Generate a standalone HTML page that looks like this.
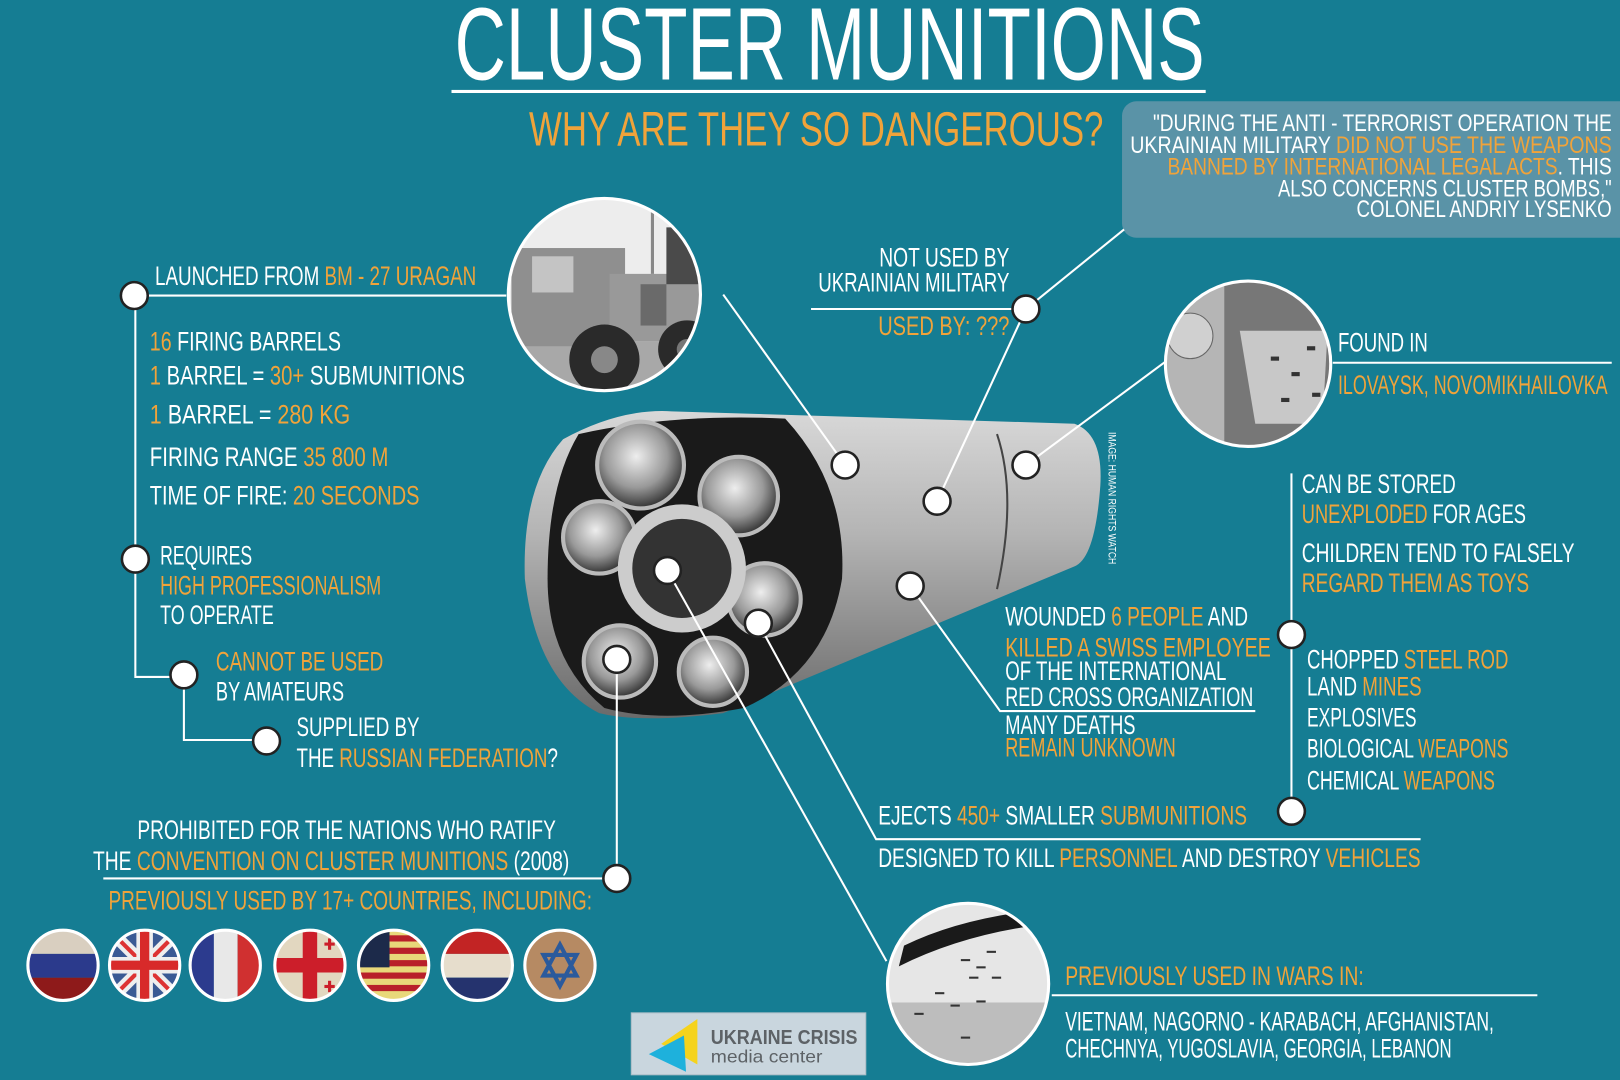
<!DOCTYPE html>
<html><head><meta charset="utf-8"><style>
html,body{margin:0;padding:0;background:#157d93;}
svg{display:block}
text{font-family:"Liberation Sans Narrow","Liberation Sans",sans-serif;fill:#fff;}
.o{fill:#f0a33a}
.t{font-size:26px}
</style></head><body>
<svg width="1620" height="1080" viewBox="0 0 1568 1045" preserveAspectRatio="none" xmlns="http://www.w3.org/2000/svg">
<defs>
<linearGradient id="rk" x1="0" y1="0" x2="0" y2="1">
<stop offset="0" stop-color="#d8d8d8"/><stop offset="0.4" stop-color="#b4b4b4"/><stop offset="1" stop-color="#6a6a6a"/></linearGradient>
<radialGradient id="tube" cx="0.45" cy="0.4" r="0.6"><stop offset="0" stop-color="#eee"/><stop offset="0.6" stop-color="#999"/><stop offset="1" stop-color="#333"/></radialGradient>
<clipPath id="c1"><circle cx="585" cy="285" r="93"/></clipPath>
<clipPath id="c2"><circle cx="1208" cy="352" r="80"/></clipPath>
<clipPath id="c3"><circle cx="937" cy="952" r="78"/></clipPath>
</defs>
<rect width="1568" height="1045" fill="#157d93"/>

<text x="440" y="77" font-size="100" textLength="726" lengthAdjust="spacingAndGlyphs">CLUSTER MUNITIONS</text>
<rect x="437" y="87" width="730" height="3" fill="#fff"/>
<text x="512" y="141" font-size="47" class="o" textLength="556" lengthAdjust="spacingAndGlyphs">WHY ARE THEY SO DANGEROUS?</text>

<rect x="1086" y="98" width="500" height="132" rx="14" fill="#5a93a7"/>
<g font-size="23" text-anchor="end">
<text x="1560" y="127" textLength="444" lengthAdjust="spacingAndGlyphs">"DURING THE ANTI - TERRORIST OPERATION THE</text>
<text x="1560" y="148" textLength="466" lengthAdjust="spacingAndGlyphs">UKRAINIAN MILITARY <tspan class="o">DID NOT USE THE WEAPONS</tspan></text>
<text x="1560" y="169" textLength="430" lengthAdjust="spacingAndGlyphs"><tspan class="o">BANNED BY INTERNATIONAL LEGAL ACTS</tspan>. THIS</text>
<text x="1560" y="190" textLength="323" lengthAdjust="spacingAndGlyphs">ALSO CONCERNS CLUSTER BOMBS,"</text>
<text x="1560" y="210" textLength="247" lengthAdjust="spacingAndGlyphs">COLONEL ANDRIY LYSENKO</text>
</g>

<path d="M545,425 Q600,395 650,398 L1040,410 Q1068,420 1065,470 Q1060,540 1040,548 L700,690 Q620,700 580,690 Q520,660 508,560 Q505,470 545,425 Z" fill="url(#rk)"/>
<path d="M965,420 Q985,480 965,570" stroke="#444" stroke-width="2" fill="none"/>
<path d="M560,420 Q650,400 760,405 Q820,470 815,560 Q800,650 720,685 Q640,700 585,685 Q530,640 530,560 Q530,470 560,420 Z" fill="#1a1a1a"/>
<g stroke="#bbb" stroke-width="4">
<circle cx="620" cy="450" r="42" fill="url(#tube)"/>
<circle cx="715" cy="480" r="38" fill="url(#tube)"/>
<circle cx="580" cy="520" r="35" fill="url(#tube)"/>
<circle cx="740" cy="580" r="35" fill="url(#tube)"/>
<circle cx="600" cy="640" r="35" fill="url(#tube)"/>
<circle cx="690" cy="650" r="33" fill="url(#tube)"/>
<circle cx="660" cy="550" r="55" fill="#333" stroke="#ccc" stroke-width="14"/>
</g>
<text transform="translate(1073,418) rotate(90)" font-size="11" textLength="128" lengthAdjust="spacingAndGlyphs">IMAGE: HUMAN RIGHTS WATCH</text>

<g clip-path="url(#c1)">
<rect x="490" y="190" width="190" height="190" fill="#ededed"/>
<rect x="490" y="330" width="190" height="50" fill="#a8a8a8"/>
<rect x="495" y="240" width="110" height="95" fill="#8f8f8f"/>
<rect x="515" y="248" width="40" height="35" fill="#c4c4c4"/>
<rect x="590" y="265" width="90" height="65" fill="#999"/>
<rect x="620" y="275" width="25" height="40" fill="#6a6a6a"/>
<rect x="645" y="220" width="35" height="55" fill="#4a4a4a"/>
<rect x="630" y="205" width="3" height="60" fill="#888"/>
<circle cx="585" cy="348" r="34" fill="#2a2a2a"/><circle cx="585" cy="348" r="13" fill="#888"/>
<circle cx="665" cy="338" r="28" fill="#2a2a2a"/><circle cx="665" cy="338" r="10" fill="#777"/>
</g>
<circle cx="585" cy="285" r="93" fill="none" stroke="#fff" stroke-width="3"/>
<g clip-path="url(#c2)">
<rect x="1125" y="270" width="170" height="170" fill="#8f8f8f"/>
<path d="M1175,270 L1295,270 L1295,440 L1190,440 Q1160,380 1175,270Z" fill="#777"/>
<path d="M1200,320 L1285,320 L1280,410 L1215,410Z" fill="#c8c8c8"/>
<rect x="1125" y="270" width="60" height="170" fill="#b5b5b5"/>
<circle cx="1152" cy="325" r="22" fill="#d0d0d0" stroke="#666"/>
<g fill="#333"><rect x="1230" y="345" width="8" height="4"/><rect x="1250" y="360" width="8" height="4"/><rect x="1265" y="335" width="8" height="4"/><rect x="1240" y="385" width="8" height="4"/><rect x="1270" y="380" width="8" height="4"/></g>
</g>
<circle cx="1208" cy="352" r="80" fill="none" stroke="#fff" stroke-width="3"/>
<g clip-path="url(#c3)">
<rect x="855" y="870" width="170" height="170" fill="#e6e6e6"/>
<rect x="855" y="970" width="170" height="70" fill="#bdbdbd"/>
<path d="M870,935 Q930,905 1005,895 L1010,880 Q930,888 875,915Z" fill="#1a1a1a"/>
<g fill="#333"><rect x="930" y="928" width="9" height="2"/><rect x="945" y="935" width="9" height="2"/><rect x="938" y="945" width="9" height="2"/><rect x="955" y="920" width="9" height="2"/><rect x="905" y="960" width="9" height="2"/><rect x="920" y="972" width="9" height="2"/><rect x="945" y="968" width="9" height="2"/><rect x="885" y="980" width="9" height="2"/><rect x="930" y="1003" width="9" height="2"/><rect x="960" y="945" width="9" height="2"/></g>
</g>
<circle cx="937" cy="952" r="78" fill="none" stroke="#fff" stroke-width="3"/>

<g stroke="#fff" stroke-width="2" fill="none">
<path d="M130,286 H490"/>
<path d="M131,286 V655 H178 V716 H258"/>
<path d="M700,285 L818,450"/>
<path d="M1088,222 L993,299"/>
<path d="M785,299 H993 L907,485"/>
<path d="M1128,350 L993,450"/>
<path d="M1290,351 H1560"/>
<path d="M1250,458 V785"/>
<path d="M881,567 L968,688 H1215"/>
<path d="M734,603 L848,812 H1375"/>
<path d="M646,552 L858,930"/>
<path d="M597,638 V850 H100"/>
<path d="M1018,963 H1488"/>
</g>
<g fill="#fff" stroke="#222" stroke-width="2.5">
<circle cx="130" cy="286" r="13"/><circle cx="131" cy="541" r="13"/><circle cx="178" cy="653" r="13"/><circle cx="258" cy="717" r="13"/>
<circle cx="597" cy="850" r="13"/><circle cx="993" cy="299" r="13"/><circle cx="818" cy="450" r="13"/><circle cx="907" cy="485" r="13"/>
<circle cx="993" cy="450" r="13"/><circle cx="881" cy="567" r="13"/><circle cx="646" cy="552" r="13"/><circle cx="734" cy="603" r="13"/>
<circle cx="597" cy="638" r="13"/><circle cx="1250" cy="614" r="13"/><circle cx="1250" cy="785" r="13"/>
</g>

<g class="t">
<text x="150" y="276" textLength="311" lengthAdjust="spacingAndGlyphs">LAUNCHED FROM <tspan class="o">BM - 27 URAGAN</tspan></text>
<text x="145" y="339" textLength="185" lengthAdjust="spacingAndGlyphs"><tspan class="o">16</tspan> FIRING BARRELS</text>
<text x="145" y="372" textLength="305" lengthAdjust="spacingAndGlyphs"><tspan class="o">1</tspan> BARREL = <tspan class="o">30+</tspan> SUBMUNITIONS</text>
<text x="145" y="410" textLength="194" lengthAdjust="spacingAndGlyphs"><tspan class="o">1</tspan> BARREL = <tspan class="o">280 KG</tspan></text>
<text x="145" y="451" textLength="231" lengthAdjust="spacingAndGlyphs">FIRING RANGE <tspan class="o">35 800 M</tspan></text>
<text x="145" y="488" textLength="261" lengthAdjust="spacingAndGlyphs">TIME OF FIRE: <tspan class="o">20 SECONDS</tspan></text>
<text x="155" y="546" textLength="89" lengthAdjust="spacingAndGlyphs">REQUIRES</text>
<text x="155" y="575" class="o" textLength="214" lengthAdjust="spacingAndGlyphs">HIGH PROFESSIONALISM</text>
<text x="155" y="604" textLength="110" lengthAdjust="spacingAndGlyphs">TO OPERATE</text>
<text x="209" y="649" class="o" textLength="162" lengthAdjust="spacingAndGlyphs">CANNOT BE USED</text>
<text x="209" y="678" textLength="124" lengthAdjust="spacingAndGlyphs">BY AMATEURS</text>
<text x="287" y="712" textLength="119" lengthAdjust="spacingAndGlyphs">SUPPLIED BY</text>
<text x="287" y="742" textLength="253" lengthAdjust="spacingAndGlyphs">THE <tspan class="o">RUSSIAN FEDERATION</tspan>?</text>
<text x="133" y="812" textLength="405" lengthAdjust="spacingAndGlyphs">PROHIBITED FOR THE NATIONS WHO RATIFY</text>
<text x="90" y="842" textLength="461" lengthAdjust="spacingAndGlyphs">THE <tspan class="o">CONVENTION ON CLUSTER MUNITIONS</tspan> (2008)</text>
<text x="105" y="880" class="o" textLength="468" lengthAdjust="spacingAndGlyphs">PREVIOUSLY USED BY 17+ COUNTRIES, INCLUDING:</text>

<text x="977" y="258" text-anchor="end" textLength="126" lengthAdjust="spacingAndGlyphs">NOT USED BY</text>
<text x="977" y="282" text-anchor="end" textLength="185" lengthAdjust="spacingAndGlyphs">UKRAINIAN MILITARY</text>
<text x="977" y="324" text-anchor="end" class="o" textLength="127" lengthAdjust="spacingAndGlyphs">USED BY: ???</text>

<text x="1295" y="340" textLength="87" lengthAdjust="spacingAndGlyphs">FOUND IN</text>
<text x="1295" y="381" class="o" textLength="261" lengthAdjust="spacingAndGlyphs">ILOVAYSK, NOVOMIKHAILOVKA</text>

<text x="1260" y="477" textLength="149" lengthAdjust="spacingAndGlyphs">CAN BE STORED</text>
<text x="1260" y="506" textLength="217" lengthAdjust="spacingAndGlyphs"><tspan class="o">UNEXPLODED</tspan> FOR AGES</text>
<text x="1260" y="544" textLength="264" lengthAdjust="spacingAndGlyphs">CHILDREN TEND TO FALSELY</text>
<text x="1260" y="573" class="o" textLength="220" lengthAdjust="spacingAndGlyphs">REGARD THEM AS TOYS</text>
<text x="1265" y="647" textLength="195" lengthAdjust="spacingAndGlyphs">CHOPPED <tspan class="o">STEEL ROD</tspan></text>
<text x="1265" y="673" textLength="111" lengthAdjust="spacingAndGlyphs">LAND <tspan class="o">MINES</tspan></text>
<text x="1265" y="703" textLength="106" lengthAdjust="spacingAndGlyphs">EXPLOSIVES</text>
<text x="1265" y="733" textLength="195" lengthAdjust="spacingAndGlyphs">BIOLOGICAL <tspan class="o">WEAPONS</tspan></text>
<text x="1265" y="764" textLength="182" lengthAdjust="spacingAndGlyphs">CHEMICAL <tspan class="o">WEAPONS</tspan></text>

<text x="973" y="605" textLength="235" lengthAdjust="spacingAndGlyphs">WOUNDED <tspan class="o">6 PEOPLE</tspan> AND</text>
<text x="973" y="635" class="o" textLength="257" lengthAdjust="spacingAndGlyphs">KILLED A SWISS EMPLOYEE</text>
<text x="973" y="658" textLength="214" lengthAdjust="spacingAndGlyphs">OF THE INTERNATIONAL</text>
<text x="973" y="683" textLength="240" lengthAdjust="spacingAndGlyphs">RED CROSS ORGANIZATION</text>
<text x="973" y="710" textLength="126" lengthAdjust="spacingAndGlyphs">MANY DEATHS</text>
<text x="973" y="732" class="o" textLength="165" lengthAdjust="spacingAndGlyphs">REMAIN UNKNOWN</text>

<text x="850" y="798" textLength="357" lengthAdjust="spacingAndGlyphs">EJECTS <tspan class="o">450+</tspan> SMALLER <tspan class="o">SUBMUNITIONS</tspan></text>
<text x="850" y="839" textLength="525" lengthAdjust="spacingAndGlyphs">DESIGNED TO KILL <tspan class="o">PERSONNEL</tspan> AND DESTROY <tspan class="o">VEHICLES</tspan></text>

<text x="1031" y="953" class="o" textLength="289" lengthAdjust="spacingAndGlyphs">PREVIOUSLY USED IN WARS IN:</text>
<text x="1031" y="997" textLength="415" lengthAdjust="spacingAndGlyphs">VIETNAM, NAGORNO - KARABACH, AFGHANISTAN,</text>
<text x="1031" y="1023" textLength="374" lengthAdjust="spacingAndGlyphs">CHECHNYA, YUGOSLAVIA, GEORGIA, LEBANON</text>
</g>

<defs>
<clipPath id="f1"><circle cx="61" cy="934" r="34"/></clipPath>
<clipPath id="f2"><circle cx="140" cy="934" r="34"/></clipPath>
<clipPath id="f3"><circle cx="218" cy="934" r="34"/></clipPath>
<clipPath id="f4"><circle cx="300" cy="934" r="34"/></clipPath>
<clipPath id="f5"><circle cx="381" cy="934" r="34"/></clipPath>
<clipPath id="f6"><circle cx="462" cy="934" r="34"/></clipPath>
<clipPath id="f7"><circle cx="542" cy="934" r="34"/></clipPath>
</defs>
<g clip-path="url(#f1)"><rect x="27" y="900" width="68" height="23" fill="#d9cfc0"/><rect x="27" y="923" width="68" height="23" fill="#2b3a8c"/><rect x="27" y="946" width="68" height="23" fill="#8e1a1a"/></g>
<g clip-path="url(#f2)"><rect x="106" y="900" width="68" height="68" fill="#3a5a94"/><path d="M106,900 L174,968 M174,900 L106,968" stroke="#eee" stroke-width="12"/><path d="M106,900 L174,968 M174,900 L106,968" stroke="#d33" stroke-width="4"/><path d="M140,900 V968 M106,934 H174" stroke="#eee" stroke-width="16"/><path d="M140,900 V968 M106,934 H174" stroke="#d82a2a" stroke-width="9"/></g>
<g clip-path="url(#f3)"><rect x="184" y="900" width="23" height="68" fill="#2c3b8e"/><rect x="207" y="900" width="23" height="68" fill="#e8e8e8"/><rect x="230" y="900" width="23" height="68" fill="#d03030"/></g>
<g clip-path="url(#f4)"><rect x="266" y="900" width="68" height="68" fill="#e2d7c0"/><path d="M300,900 V968 M266,934 H334" stroke="#cc1e2a" stroke-width="14"/><rect x="314" y="912" width="10" height="3" fill="#cc1e2a"/><rect x="317.5" y="908" width="3" height="11" fill="#cc1e2a"/><rect x="314" y="953" width="10" height="3" fill="#cc1e2a"/><rect x="317.5" y="949" width="3" height="11" fill="#cc1e2a"/></g>
<g clip-path="url(#f5)"><rect x="347" y="900" width="68" height="68" fill="#e8d87a"/><g fill="#b8202a"><rect x="347" y="905" width="68" height="6"/><rect x="347" y="917" width="68" height="6"/><rect x="347" y="929" width="68" height="6"/><rect x="347" y="941" width="68" height="6"/><rect x="347" y="953" width="68" height="6"/></g><rect x="347" y="900" width="30" height="36" fill="#1c2a4a"/></g>
<g clip-path="url(#f6)"><rect x="428" y="900" width="68" height="23" fill="#c22424"/><rect x="428" y="923" width="68" height="23" fill="#e6ddcc"/><rect x="428" y="946" width="68" height="23" fill="#25336e"/></g>
<g clip-path="url(#f7)"><rect x="508" y="900" width="68" height="68" fill="#b68a63"/><path d="M542,914 L558,944 H526Z M542,954 L558,924 H526Z" fill="none" stroke="#2b5a9c" stroke-width="4"/></g>
<g fill="none" stroke="#fff" stroke-width="3"><circle cx="61" cy="934" r="34"/><circle cx="140" cy="934" r="34"/><circle cx="218" cy="934" r="34"/><circle cx="300" cy="934" r="34"/><circle cx="381" cy="934" r="34"/><circle cx="462" cy="934" r="34"/><circle cx="542" cy="934" r="34"/></g>

<rect x="611" y="980" width="227" height="60" fill="#c9d6de" stroke="#a9bcc6"/>
<path d="M640,1010 L675,986 L675,1030Z" fill="#f5d31c"/>
<path d="M628,1020 L662,1002 L664,1037Z" fill="#1eb1dc"/>
<text x="688" y="1010" font-size="20" font-weight="bold" style="fill:#5d6266;font-family:'Liberation Sans',sans-serif" textLength="142" lengthAdjust="spacingAndGlyphs">UKRAINE CRISIS</text>
<text x="688" y="1028" font-size="17" style="fill:#5d6266;font-family:'Liberation Sans',sans-serif" textLength="108" lengthAdjust="spacingAndGlyphs">media center</text>
</svg>
</body></html>
